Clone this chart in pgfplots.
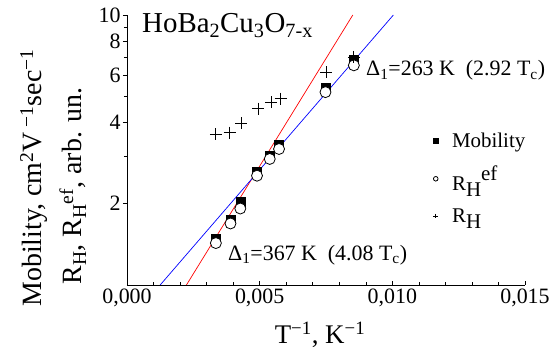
\documentclass[border=0pt]{standalone}
\usepackage{fontspec}
\setmainfont{Liberation Serif}
\usepackage{pgfplots}
\pgfplotsset{compat=1.18}
\newcommand{\fs}[1]{\fontsize{#1}{#1}\selectfont}

\begin{document}
\begin{tikzpicture}
\path[use as bounding box] (-127bp,-66bp) rectangle (430bp,285bp);
\begin{axis}[
  scale only axis, width=398bp, height=270bp,
  at={(0,0)}, anchor=south west,
  ymode=log, xmin=0, xmax=0.015, ymin=1, ymax=10,
  axis x line*=bottom, axis y line*=left,
  axis line style={-, line width=0.8bp},
  xtick={0,0.005,0.01,0.015},
  minor xtick={0.001,0.002,0.003,0.004,0.006,0.007,0.008,0.009,0.011,0.012,0.013,0.014},
  ytick={2,4,6,8,10}, yticklabels={2,4,6,8,10},
  minor ytick={3,5,7,9},
  tick align=inside,
  major tick length=4bp, minor tick length=3bp,
  every major y tick/.append style={xshift=-4bp},
  every minor y tick/.append style={xshift=-3bp},
  tick style={black, line width=0.6bp},
  scaled x ticks=false,
  x tick label style={/pgf/number format/.cd, fixed, fixed zerofill, precision=3, use comma, /tikz/.cd},
  /pgf/number format/assume math mode=true,
  tick label style={font=\fs{22}},
  y tick label style={xshift=-3bp},
  legend style={draw=none, fill=none, at={(0.762,0.575)}, anchor=north west, font=\fs{21}, row sep=15bp, column sep=13bp, nodes={inner sep=1bp}},
  legend cell align=left,
  legend image code/.code={\draw[#1, mark size=2.3bp] plot coordinates {(0.15cm,0cm)};},
]
\addplot[red, line width=0.7bp, forget plot] coordinates {(0.00224,1) (0.00851,10)};
\addplot[blue, line width=0.7bp, forget plot] coordinates {(0.00125,1) (0.01004,10)};
\addplot[only marks, mark=square*, mark size=4.5bp, black] coordinates {
(0.00335,1.49) (0.00390,1.75) (0.00427,2.04) (0.00490,2.62)
(0.00538,3.01) (0.00573,3.30) (0.00748,5.39) (0.00855,6.83)};
\addlegendentry{Mobility}
\addplot[only marks, mark=*, mark size=5.5bp, mark options={fill=white, draw=black, line width=0.8bp}] coordinates {
(0.00335,1.43) (0.00390,1.69) (0.00427,1.92) (0.00490,2.54)
(0.00538,2.93) (0.00573,3.19) (0.00748,5.18) (0.00855,6.51)};
\addlegendentry{R\raisebox{-0.3em}{H}\raisebox{0.45em}{ef}}
\addplot[only marks, mark=+, mark size=6bp, black, line width=0.8bp] coordinates {
(0.00335,3.62) (0.00387,3.67) (0.00431,3.97) (0.00494,4.50)
(0.00544,4.76) (0.00579,4.90) (0.00751,6.13) (0.00855,6.99)};
\addlegendentry{R\raisebox{-0.3em}{H}}
\end{axis}
\node[anchor=base west, font=\fs{29}, inner sep=0pt] at (15bp,252bp) {HoBa\textsubscript{2}Cu\textsubscript{3}O\textsubscript{7-x}};
\node[anchor=base west, font=\fs{22}, inner sep=0pt] at (239bp,209bp) {Δ\textsubscript{1}=263 K\ \ (2.92 T\textsubscript{c})};
\node[anchor=base west, font=\fs{22}, inner sep=0pt] at (101bp,25bp) {Δ\textsubscript{1}=367 K\ \ (4.08 T\textsubscript{c})};
\node[rotate=90, anchor=base, font=\fs{28}, inner sep=0pt] at (-85bp,107bp) {Mobility, cm\textsuperscript{2}V\textsuperscript{ −1}sec\textsuperscript{−1}};
\node[rotate=90, anchor=base, font=\fs{28}, inner sep=0pt] at (-45bp,99bp) {R\textsubscript{H}, R\textsubscript{H}\textsuperscript{ef}, arb. un.};
\node[anchor=base, font=\fs{27}, inner sep=0pt] at (193bp,-58bp) {T\textsuperscript{−1}, K\textsuperscript{−1}};
\end{tikzpicture}
\end{document}
